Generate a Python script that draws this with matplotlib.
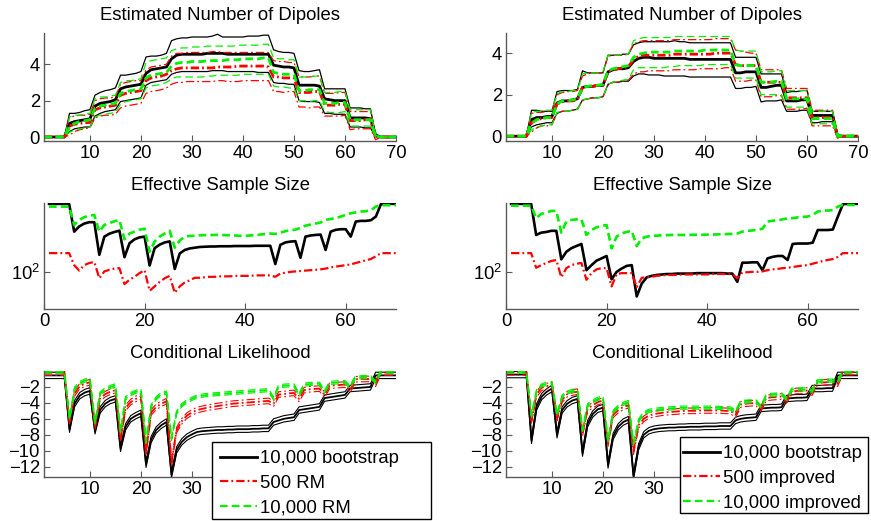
import numpy as np
import matplotlib
matplotlib.use('Agg')
import matplotlib.pyplot as plt
from matplotlib.ticker import FixedLocator, NullLocator, FixedFormatter
from matplotlib.lines import Line2D
from matplotlib.patches import Rectangle

plt.rcParams['font.family'] = ['Liberation Sans', 'DejaVu Sans']
plt.rcParams['mathtext.fontset'] = 'custom'
plt.rcParams['mathtext.rm'] = 'Liberation Sans'
plt.rcParams['mathtext.it'] = 'Liberation Sans:italic'
plt.rcParams['lines.scale_dashes'] = False

# ---------------- data ----------------
t = np.arange(1, 71)

# Estimated number of dipoles, left (bootstrap vs RM)
boot_mean_L = [0,0,0,0,0, 0.75,0.85,0.9,0.95,1.0, 1.7,1.85,1.9,1.95,2.05, 2.65,2.75,2.8,2.85,2.9, 3.5,3.7,3.75,3.8,3.85, 4.3,4.5,4.55,4.55,4.55, 4.55,4.55,4.6,4.6,4.6, 4.6,4.55,4.55,4.55,4.55, 4.55,4.55,4.55,4.55,4.55, 3.95,3.9,3.85,3.85,3.8, 2.85,2.85,2.85,2.85,2.8, 2.1,2.05,2.0,2.0,2.0, 1.05,1.05,1.05,1.05,1.0, 0.1,0,0,0,0]
boot_hi_L = [0,0,0,0,0, 1.3,1.3,1.35,1.45,1.5, 2.3,2.45,2.55,2.6,2.7, 3.4,3.4,3.45,3.5,3.6, 4.4,4.45,4.45,4.5,4.6, 5.3,5.4,5.45,5.45,5.5, 5.5,5.5,5.5,5.55,5.65, 5.5,5.5,5.5,5.5,5.5, 5.55,5.55,5.55,5.6,5.6, 4.8,4.7,4.65,4.65,4.6, 3.65,3.6,3.6,3.65,3.7, 2.65,2.65,2.65,2.65,2.65, 1.6,1.6,1.6,1.55,1.55, 0.15,0,0,0,0]
boot_lo_L = [0,0,0,0,0, 0.3,0.45,0.5,0.55,0.55, 1.15,1.3,1.4,1.45,1.5, 1.95,2.0,2.05,2.1,2.15, 2.85,3.0,3.05,3.1,3.15, 3.45,3.55,3.6,3.6,3.6, 3.6,3.6,3.6,3.65,3.65, 3.65,3.6,3.6,3.6,3.6, 3.6,3.6,3.55,3.55,3.55, 3.0,2.95,2.95,2.9,2.9, 2.0,1.95,1.95,1.95,1.9, 1.3,1.3,1.25,1.25,1.25, 0.55,0.55,0.55,0.5,0.5, 0,0,0,0,0]
rm500_mean_L = [0,0,0,0,0, 0.6,0.7,0.75,0.78,0.8, 1.5,1.6,1.65,1.7,1.75, 2.3,2.4,2.45,2.5,2.55, 3.1,3.25,3.3,3.35,3.45, 3.65,3.75,3.8,3.8,3.8, 3.8,3.8,3.8,3.8,3.85, 3.85,3.85,3.85,3.9,3.9, 3.9,3.9,3.9,3.9,3.85, 3.3,3.3,3.25,3.25,3.25, 2.45,2.45,2.45,2.5,2.5, 1.75,1.75,1.75,1.8,1.8, 0.9,0.9,0.9,0.95,0.95, -0.05,0,0,0,0]
rm500_hi_L = [0,0,0,0,0, 1.1,1.15,1.2,1.2,1.25, 2.0,2.1,2.15,2.15,2.2, 2.9,3.0,3.05,3.1,3.1, 3.7,3.85,3.9,3.95,4.0, 4.45,4.6,4.6,4.65,4.65, 4.65,4.65,4.65,4.7,4.7, 4.65,4.65,4.65,4.65,4.65, 4.65,4.65,4.65,4.65,4.65, 4.2,4.15,4.15,4.1,4.1, 3.3,3.3,3.3,3.35,3.35, 2.4,2.4,2.4,2.45,2.45, 1.4,1.4,1.4,1.4,1.4, 0.05,0,0,0,0]
rm500_lo_L = [0,0,0,0,0, 0.1,0.3,0.4,0.45,0.5, 1.05,1.15,1.2,1.2,1.25, 1.6,1.7,1.75,1.8,1.85, 2.4,2.5,2.55,2.6,2.7, 2.9,3.0,3.0,3.05,3.05, 3.05,3.05,3.05,3.05,3.1, 3.1,3.05,3.05,3.05,3.1, 3.1,3.1,3.1,3.1,3.1, 2.5,2.5,2.45,2.5,2.5, 1.65,1.65,1.6,1.65,1.65, 1.15,1.15,1.15,1.15,1.2, 0.4,0.45,0.45,0.45,0.45, -0.15,0,0,0,0]
rm10k_mean_L = [0,0,0,0,0, 0.55,0.75,0.85,0.9,0.95, 1.6,1.7,1.75,1.8,1.85, 2.4,2.5,2.55,2.6,2.65, 3.25,3.4,3.45,3.5,3.55, 3.9,4.05,4.1,4.1,4.15, 4.15,4.15,4.2,4.2,4.2, 4.2,4.25,4.25,4.25,4.3, 4.3,4.3,4.3,4.35,4.35, 3.55,3.5,3.45,3.45,3.45, 2.55,2.55,2.6,2.6,2.6, 1.85,1.85,1.85,1.9,1.9, 0.95,0.95,0.95,0.95,0.95, 0.05,0,0,0,0]
rm10k_hi_L = [0,0,0,0,0, 1.1,1.2,1.2,1.25,1.3, 2.1,2.2,2.2,2.25,2.3, 3.0,3.1,3.1,3.15,3.2, 4.1,4.2,4.25,4.3,4.35, 4.75,4.85,4.9,4.9,4.95, 4.95,4.95,5.0,5.0,5.0, 5.0,5.0,5.0,5.05,5.05, 5.05,5.05,5.05,5.1,5.1, 4.35,4.3,4.3,4.25,4.25, 3.3,3.3,3.3,3.35,3.35, 2.45,2.45,2.45,2.5,2.5, 1.5,1.5,1.5,1.5,1.5, 0.1,0,0,0,0]
rm10k_lo_L = [0,0,0,0,0, 0.25,0.4,0.45,0.5,0.55, 1.1,1.2,1.25,1.3,1.35, 1.8,1.95,2.0,2.05,2.1, 2.7,2.8,2.85,2.9,3.0, 3.2,3.3,3.3,3.3,3.3, 3.3,3.3,3.35,3.35,3.4, 3.4,3.4,3.4,3.4,3.45, 3.45,3.45,3.45,3.45,3.45, 2.8,2.75,2.75,2.7,2.7, 2.0,2.0,1.95,2.0,2.0, 1.4,1.35,1.35,1.35,1.4, 0.6,0.6,0.6,0.6,0.6, 0,0,0,0,0]

# Estimated number of dipoles, right (bootstrap vs improved)
boot_mean_R = [0,0,0,0,0, 0.8,0.9,0.9,0.95,0.95, 1.6,1.7,1.7,1.75,1.8, 2.35,2.4,2.4,2.45,2.45, 3.1,3.2,3.25,3.25,3.3, 3.6,3.75,3.8,3.8,3.75, 3.75,3.75,3.75,3.75,3.75, 3.75,3.7,3.7,3.7,3.7, 3.7,3.7,3.7,3.7,3.7, 3.05,3.05,3.1,3.1,3.1, 2.35,2.35,2.4,2.45,2.45, 1.7,1.7,1.7,1.75,1.75, 1.0,1.0,1.0,1.0,1.0, 0,0,0,0,0]
boot_hi_R = [0,0,0,0,0, 1.25,1.25,1.2,1.2,1.2, 2.15,2.2,2.2,2.2,2.25, 3.15,3.05,3.05,3.05,3.05, 3.9,3.9,3.9,3.95,3.95, 4.4,4.5,4.55,4.55,4.55, 4.55,4.55,4.55,4.6,4.55, 4.55,4.5,4.5,4.5,4.5, 4.5,4.5,4.5,4.5,4.5, 3.8,3.8,3.8,3.8,3.8, 3.0,3.0,3.0,3.0,3.0, 2.1,2.15,2.15,2.2,2.2, 1.2,1.2,1.2,1.2,1.2, 0.05,0,0,0,0]
boot_lo_R = [0,0,0,0,0, 0.45,0.55,0.6,0.65,0.65, 1.1,1.2,1.2,1.25,1.3, 1.75,1.8,1.85,1.85,1.9, 2.5,2.6,2.6,2.65,2.65, 2.9,3.0,3.0,2.95,2.95, 2.95,2.9,2.9,2.9,2.9, 2.9,2.85,2.85,2.85,2.85, 2.85,2.85,2.85,2.85,2.85, 2.3,2.3,2.35,2.35,2.4, 1.65,1.7,1.7,1.7,1.75, 1.2,1.2,1.2,1.25,1.25, 0.65,0.65,0.7,0.7,0.7, 0,0,0,0,0]
imp500_mean_R = [0,0,0,0,0, 0.65,0.8,0.85,0.9,0.9, 1.55,1.65,1.7,1.7,1.75, 2.35,2.4,2.4,2.45,2.45, 3.1,3.2,3.25,3.3,3.35, 3.7,3.85,3.9,3.9,3.9, 3.9,3.9,3.9,3.95,3.95, 3.95,3.95,3.95,3.95,3.95, 3.95,4.0,4.0,4.0,4.0, 3.45,3.4,3.4,3.4,3.4, 2.6,2.6,2.6,2.6,2.6, 1.85,1.85,1.85,1.85,1.85, 0.9,0.9,0.9,0.9,0.9, 0,0,0,0,0]
imp500_hi_R = [0,0,0,0,0, 1.1,1.15,1.15,1.2,1.2, 2.0,2.1,2.15,2.15,2.2, 2.9,3.0,3.05,3.05,3.05, 3.85,3.9,3.9,3.9,3.95, 4.45,4.55,4.6,4.6,4.6, 4.6,4.6,4.6,4.65,4.65, 4.65,4.65,4.65,4.65,4.65, 4.65,4.7,4.7,4.7,4.7, 4.15,4.1,4.05,4.0,4.0, 3.2,3.2,3.2,3.2,3.2, 2.3,2.3,2.3,2.3,2.3, 1.25,1.25,1.25,1.25,1.25, 0.05,0,0,0,0]
imp500_lo_R = [0,0,0,0,0, 0.2,0.4,0.5,0.5,0.55, 1.1,1.2,1.2,1.25,1.3, 1.7,1.8,1.85,1.85,1.9, 2.45,2.6,2.6,2.65,2.7, 3.0,3.1,3.1,3.15,3.15, 3.15,3.15,3.15,3.2,3.2, 3.2,3.2,3.2,3.25,3.25, 3.25,3.25,3.25,3.3,3.3, 2.65,2.65,2.65,2.7,2.7, 1.9,1.9,1.9,1.95,1.95, 1.3,1.3,1.3,1.3,1.35, 0.5,0.5,0.5,0.5,0.5, -0.1,0,0,0,0]
imp10k_mean_R = [0,0,0,0,0, 0.6,0.8,0.85,0.9,0.9, 1.55,1.7,1.7,1.75,1.8, 2.35,2.4,2.45,2.45,2.5, 3.15,3.25,3.3,3.35,3.4, 3.8,3.95,4.0,4.05,4.05, 4.05,4.05,4.05,4.1,4.1, 4.1,4.1,4.1,4.1,4.15, 4.15,4.15,4.15,4.15,4.15, 3.45,3.4,3.4,3.4,3.4, 2.6,2.6,2.6,2.65,2.65, 1.8,1.8,1.8,1.8,1.8, 0.85,0.85,0.85,0.85,0.85, 0,0,0,0,0]
imp10k_hi_R = [0,0,0,0,0, 1.15,1.2,1.2,1.25,1.25, 2.05,2.15,2.15,2.2,2.2, 3.0,3.05,3.05,3.05,3.1, 3.9,3.9,3.9,3.95,3.95, 4.6,4.7,4.75,4.75,4.75, 4.75,4.75,4.75,4.8,4.8, 4.8,4.8,4.8,4.8,4.8, 4.8,4.8,4.8,4.8,4.8, 4.15,4.1,4.1,4.1,4.1, 3.1,3.1,3.1,3.15,3.15, 2.2,2.2,2.2,2.2,2.2, 1.2,1.2,1.2,1.2,1.2, 0.1,0.05,0.05,0.05,0.05]
imp10k_lo_R = [0,0,0,0,0, 0.3,0.45,0.5,0.55,0.55, 1.15,1.2,1.2,1.25,1.3, 1.75,1.8,1.85,1.85,1.9, 2.5,2.6,2.65,2.7,2.75, 3.2,3.3,3.3,3.3,3.3, 3.3,3.3,3.35,3.35,3.4, 3.4,3.4,3.4,3.4,3.45, 3.45,3.45,3.45,3.45,3.45, 2.8,2.8,2.8,2.8,2.8, 2.0,2.0,2.0,2.0,2.0, 1.4,1.4,1.4,1.4,1.4, 0.6,0.6,0.6,0.6,0.6, 0,0,0,0,0]

# Effective sample size
ess_boot_L = [490,490,490,490,490, 257,290,310,320,320, 150,229,245,255,263, 142,196,215,225,229, 117,175,190,200,205, 108,155,168,174,177, 180,181,182,182,183, 183,183,184,184,184, 184,185,185,185,185, 121,189,200,204,206, 140,229,235,238,240, 168,257,268,272,272, 229,325,330,330,335, 365,487,490,490,490]
ess_rm500_L = [156,156,156,156,156, 118,104,118,124,127, 87,102,106,109,110, 76,84,90,98,105, 65,72,80,87,92, 62,72,79,83,88, 88,89,90,90,91, 91,91,92,92,92, 92,93,93,93,93, 90,97,99,101,102, 103,104,105,106,107, 109,112,114,116,118, 120,124,128,132,136, 145,156,156,156,156]
ess_rm10k_L = [460,460,460,460,460, 300,337,360,372,379, 257,300,313,327,337, 215,246,257,269,275, 161,204,229,246,262, 177,209,229,233,233, 236,237,238,238,238, 237,236,235,233,233, 235,237,240,243,246, 244,250,260,265,269, 281,295,303,310,318, 337,345,352,365,379, 394,402,410,413,423, 460,475,475,475,475]
ess_boot_R = [490,490,490,490,490, 238,251,255,262,262, 135,161,175,184,193, 105,118,131,138,146, 85,101,109,116,118, 57,77,89,92,94, 95,96,96,97,97, 97,97,98,98,98, 98,98,98,97,97, 80,125,125,126,126, 105,138,143,146,146, 133,193,195,195,195, 199,267,267,267,270, 365,487,490,490,490]
ess_imp500_R = [156,156,156,156,156, 111,118,124,130,133, 89,110,118,122,124, 84,98,107,110,110, 72,96,98,98,98, 71,88,89,90,92, 93,94,94,94,95, 95,95,95,95,95, 96,96,96,96,96, 87,100,100,101,101, 102,105,107,108,110, 111,113,115,117,118, 122,126,130,133,136, 143,156,156,156,156]
ess_imp10k_R = [470,470,470,470,470, 351,388,400,416,416, 251,325,337,342,342, 238,267,284,293,300, 174,229,247,255,262, 184,220,229,233,234, 236,237,238,238,238, 238,239,239,239,240, 240,241,242,243,244, 246,257,262,264,269, 275,325,331,334,342, 350,352,358,362,365, 379,410,418,420,423, 460,478,478,478,478]

# Conditional likelihood (centre of each band) and band half-widths
cl_boot_L = [-0.55,-0.55,-0.55,-0.55,-0.55, -7.3,-4.1,-3.1,-2.7,-2.5, -7.5,-4.9,-4.1,-3.7,-3.5, -9.7,-7.0,-6.0,-5.6,-5.3, -11.7,-8.6,-7.4,-6.8,-6.4, -13.0,-9.9,-8.9,-8.3,-7.95, -7.65,-7.55,-7.5,-7.45,-7.4, -7.4,-7.35,-7.35,-7.3,-7.3, -7.3,-7.25,-7.25,-7.2,-7.2, -6.4,-6.2,-6.0,-5.9,-5.8, -4.9,-4.8,-4.7,-4.6,-4.5, -3.4,-3.3,-3.2,-3.1,-3.0, -2.2,-2.15,-2.1,-2.05,-2.0, -0.55,-0.55,-0.55,-0.55,-0.55]
cl_rm500_L = [-0.2,-0.2,-0.2,-0.2,-0.2, -6.3,-2.8,-1.9,-1.6,-1.4, -7.0,-3.4,-2.9,-2.6,-2.4, -8.6,-4.6,-3.9,-3.5,-3.2, -10.3,-5.2,-4.5,-4.1,-3.8, -11.5,-7.4,-6.3,-5.6,-5.2, -4.9,-4.75,-4.6,-4.5,-4.4, -4.3,-4.2,-4.1,-4.05,-4.0, -3.95,-3.9,-3.85,-3.8,-3.75, -4.1,-2.95,-2.9,-2.8,-2.75, -3.5,-2.4,-2.3,-2.25,-2.2, -3.0,-1.85,-1.8,-1.75,-1.7, -2.4,-1.05,-1.0,-1.0,-1.0, -1.6,-0.2,-0.2,-0.2,-0.2]
cl_rm10k_L = [-0.1,-0.1,-0.1,-0.1,-0.1, -6.0,-2.2,-1.5,-1.2,-1.0, -6.5,-2.8,-2.3,-2.0,-1.8, -7.6,-3.4,-2.9,-2.6,-2.4, -8.9,-4.4,-3.4,-2.9,-2.7, -8.5,-5.2,-4.3,-3.8,-3.5, -3.2,-3.1,-3.0,-2.95,-2.9, -2.85,-2.8,-2.75,-2.7,-2.65, -2.6,-2.55,-2.5,-2.45,-2.4, -3.45,-1.9,-1.85,-1.8,-1.8, -3.0,-1.7,-1.65,-1.6,-1.6, -2.6,-1.5,-1.45,-1.4,-1.4, -2.0,-0.85,-0.8,-0.75,-0.75, -1.4,-0.1,-0.1,-0.1,-0.1]
cl_boot_R = [-0.45,-0.45,-0.45,-0.45,-0.45, -8.7,-4.5,-3.2,-2.6,-2.2, -8.0,-4.9,-4.1,-3.7,-3.5, -10.3,-6.6,-5.4,-4.8,-4.6, -11.8,-8.2,-7.0,-6.4,-6.1, -13.2,-9.5,-8.0,-7.5,-7.3, -7.2,-7.15,-7.1,-7.1,-7.05, -7.05,-7.0,-7.0,-7.0,-6.95, -6.95,-6.95,-6.9,-6.9,-6.9, -6.2,-6.0,-5.9,-5.85,-5.8, -4.7,-4.65,-4.6,-4.6,-4.55, -3.45,-3.4,-3.35,-3.35,-3.3, -2.2,-2.2,-2.2,-2.15,-2.15, -0.55,-0.55,-0.55,-0.55,-0.55]
cl_imp500_R = [-0.15,-0.15,-0.15,-0.15,-0.15, -6.2,-2.9,-2.1,-1.9,-1.7, -5.9,-3.6,-2.9,-2.7,-2.6, -7.8,-4.7,-4.3,-3.9,-3.7, -9.1,-5.5,-4.9,-4.5,-4.3, -10.1,-6.8,-6.0,-5.6,-5.4, -5.3,-5.2,-5.15,-5.1,-5.05, -5.0,-5.0,-5.0,-4.95,-4.95, -4.95,-4.95,-4.95,-5.0,-5.0, -5.5,-4.2,-4.1,-4.05,-4.0, -4.7,-3.4,-3.3,-3.25,-3.2, -3.7,-2.6,-2.5,-2.5,-2.45, -2.7,-1.5,-1.45,-1.4,-1.4, -1.6,-0.15,-0.15,-0.15,-0.15]
cl_imp10k_R = [-0.1,-0.1,-0.1,-0.1,-0.1, -5.6,-2.5,-1.8,-1.6,-1.55, -5.5,-3.2,-2.7,-2.5,-2.4, -7.4,-4.3,-3.8,-3.5,-3.3, -8.7,-5.1,-4.5,-4.1,-3.9, -9.1,-6.2,-5.3,-5.0,-4.9, -4.8,-4.75,-4.7,-4.65,-4.6, -4.6,-4.6,-4.6,-4.6,-4.6, -4.6,-4.6,-4.65,-4.65,-4.7, -5.1,-3.9,-3.85,-3.8,-3.8, -4.5,-3.1,-3.0,-2.95,-2.9, -3.5,-2.35,-2.3,-2.3,-2.3, -2.5,-1.3,-1.25,-1.2,-1.2, -1.4,-0.1,-0.1,-0.1,-0.1]
cl_halfwidth = {'boot': 0.4, 'rm500': 0.35, 'rm10k': 0.2}

labels_L = ['10,000 bootstrap', '500 RM', '10,000 RM']
labels_R = ['10,000 bootstrap', '500 improved', '10,000 improved']
titles = ['Estimated Number of Dipoles', 'Effective Sample Size', 'Conditional Likelihood']

# ---------------- style ----------------
BLK, RED, GRN = 'black', '#ff0000', '#00f000'
DASH = (0, (5.5, 3.0))
DDOT = (0, (6.0, 2.2, 1.3, 2.2))
FS = 13.3

W, H = 871, 521
fig = plt.figure(figsize=(W / 100, H / 100), dpi=100)

def ax_at(x0, y0, x1, y1):
    return fig.add_axes([x0 / W, 1 - y1 / H, (x1 - x0) / W, (y1 - y0) / H])

def style(ax, title):
    for s in ('top', 'right'):
        ax.spines[s].set_visible(False)
    for s in ('left', 'bottom'):
        ax.spines[s].set_color('0.35')
        ax.spines[s].set_linewidth(1.0)
    ax.tick_params(direction='in', length=4, width=0.8, colors='0.35',
                   labelcolor='black', labelsize=FS, pad=3)
    ax.set_title(title, fontsize=FS, pad=9.5)

cols = [(44, 396), (506, 858)]
rows = [(33, 141), (203, 309), (371, 477)]

top_sets = [
    [(boot_mean_L, boot_hi_L, boot_lo_L), (rm500_mean_L, rm500_hi_L, rm500_lo_L), (rm10k_mean_L, rm10k_hi_L, rm10k_lo_L)],
    [(boot_mean_R, boot_hi_R, boot_lo_R), (imp500_mean_R, imp500_hi_R, imp500_lo_R), (imp10k_mean_R, imp10k_hi_R, imp10k_lo_R)],
]
top_ylims = [(-0.22, 5.72), (-0.23, 4.97)]
ess_sets = [(ess_boot_L, ess_rm500_L, ess_rm10k_L), (ess_boot_R, ess_imp500_R, ess_imp10k_R)]
cl_sets = [(cl_boot_L, cl_rm500_L, cl_rm10k_L), (cl_boot_R, cl_imp500_R, cl_imp10k_R)]
styles = [(BLK, '-'), (RED, DDOT), (GRN, DASH)]
hw_keys = ['boot', 'rm500', 'rm10k']

for c, (x0, x1) in enumerate(cols):
    # top row
    ax = ax_at(x0, rows[0][0], x1, rows[0][1])
    for (mean, hi, lo), (col, ls) in zip(top_sets[c], styles):
        ax.plot(t, hi, color=col, ls=ls, lw=0.9)
        ax.plot(t, lo, color=col, ls=ls, lw=0.9)
        ax.plot(t, mean, color=col, ls=ls, lw=2.0)
    ax.set_xlim(1, 70)
    ax.set_ylim(*top_ylims[c])
    ax.set_xticks([10, 20, 30, 40, 50, 60, 70])
    ax.set_yticks([0, 2, 4])
    style(ax, titles[0])

    # middle row
    ax = ax_at(x0, rows[1][0], x1, rows[1][1])
    for series, (col, ls), lw in zip(ess_sets[c], styles, (1.9, 1.6, 1.9)):
        ax.plot(t, series, color=col, ls=ls, lw=lw)
    ax.set_yscale('log')
    ax.set_xlim(0, 70)
    ax.set_ylim(42.6, 500)
    ax.set_xticks([0, 20, 40, 60])
    ax.yaxis.set_major_locator(FixedLocator([100]))
    ax.yaxis.set_major_formatter(FixedFormatter([r'$10^2$']))
    ax.yaxis.set_minor_locator(NullLocator())
    style(ax, titles[1])

    # bottom row (tick labels past 30 are hidden under the legend)
    ax = ax_at(x0, rows[2][0], x1, rows[2][1])
    for series, (col, ls), key in zip(cl_sets[c], styles, hw_keys):
        s = np.array(series)
        d = cl_halfwidth[key]
        ax.plot(t, s + d, color=col, ls=ls, lw=0.8)
        ax.plot(t, s - d, color=col, ls=ls, lw=0.8)
        ax.plot(t, s, color=col, ls=ls, lw=1.3)
    ax.set_xlim(1, 70)
    ax.set_ylim(-13.3, 0)
    ax.set_xticks([10, 20, 30, 40, 50, 60, 70])
    ax.set_xticklabels(['10', '20', '30', '', '', '', ''])
    ax.set_yticks([-2, -4, -6, -8, -10, -12])
    style(ax, titles[2])

def legend(labels, box, handle_x, first_row_y):
    bx0, by0, bx1, by1 = box
    fig.patches.append(Rectangle((bx0 / W, 1 - by1 / H), (bx1 - bx0) / W, (by1 - by0) / H,
                                 transform=fig.transFigure, facecolor='white',
                                 edgecolor='black', linewidth=1.0, zorder=4))
    handles = [Line2D([], [], color=BLK, ls='-', lw=2.0),
               Line2D([], [], color=RED, ls=DDOT, lw=1.6),
               Line2D([], [], color=GRN, ls=DASH, lw=1.6)]
    lg = fig.legend(handles, labels, loc='upper left',
                    bbox_to_anchor=(handle_x / W, 1 - (first_row_y - 7) / H),
                    bbox_transform=fig.transFigure, fontsize=FS,
                    frameon=False, borderaxespad=0, borderpad=0,
                    handlelength=2.0, handletextpad=0.15, labelspacing=0.42)
    lg.set_zorder(5)
    return lg

legend(labels_L, (212, 442, 431, 519), 220, 457)
legend(labels_R, (680, 437, 868, 513), 683, 452)

fig.savefig('out.png', dpi=100)
